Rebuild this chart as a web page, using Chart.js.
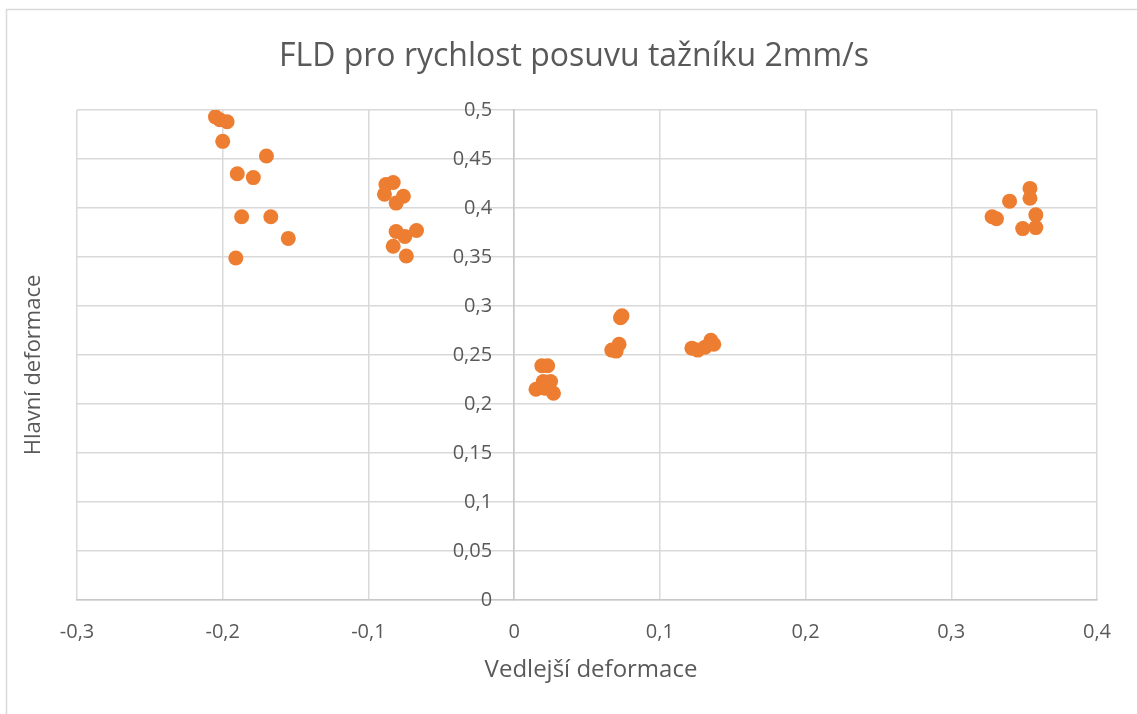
<!DOCTYPE html>
<html>
<head>
<meta charset="utf-8">
<script src="https://cdn.jsdelivr.net/npm/chart.js@4/dist/chart.umd.min.js"></script>
<style>
  html,body{margin:0;padding:0;background:#fff;}
  #wrap{width:1137px;height:714px;}
</style>
</head>
<body>
<div id="wrap"><canvas id="fld" width="1137" height="714"></canvas></div>
<script>
// --------- DATA ----------
const chartTitle = 'FLD pro rychlost posuvu tažníku 2mm/s';
const xTitle = 'Vedlejší deformace';
const yTitle = 'Hlavní deformace';

const xTickValues = [-0.3,-0.2,-0.1,0,0.1,0.2,0.3,0.4];
const xTickLabels = ['-0,3','-0,2','-0,1','0','0,1','0,2','0,3','0,4'];
const yTickValues = [0,0.05,0.1,0.15,0.2,0.25,0.3,0.35,0.4,0.45,0.5];
const yTickLabels = ['0','0,05','0,1','0,15','0,2','0,25','0,3','0,35','0,4','0,45','0,5'];

// vedlejší (minor) strain
const minorStrain = [
  -0.205,-0.202,-0.197,-0.200,-0.170,-0.190,-0.179,-0.187,-0.167,-0.155,-0.191,
  -0.088,-0.083,-0.089,-0.081,-0.076,-0.081,-0.067,-0.075,-0.083,-0.074,
  0.019,0.023,0.015,0.020,0.025,0.021,0.027,
  0.074,0.073,0.072,0.067,0.070,
  0.122,0.126,0.131,0.135,0.137,
  0.354,0.354,0.340,0.328,0.331,0.358,0.349,0.358
];
// hlavní (major) strain
const majorStrain = [
  0.493,0.490,0.488,0.468,0.453,0.435,0.431,0.391,0.391,0.369,0.349,
  0.424,0.426,0.414,0.405,0.412,0.376,0.377,0.371,0.361,0.351,
  0.239,0.239,0.215,0.223,0.223,0.216,0.211,
  0.290,0.288,0.261,0.255,0.254,
  0.257,0.255,0.258,0.265,0.261,
  0.420,0.410,0.407,0.391,0.389,0.393,0.379,0.380
];

// --------- HELPERS ----------
const txt = '#595959';
const FONT = '"Open Sans", sans-serif';

const decorations = {
  id:'decorations',
  beforeDraw(chart){
    const c = chart.ctx;
    c.save();
    c.strokeStyle = '#d9d9d9';
    c.lineWidth = 1.5;
    c.beginPath();
    c.moveTo(6.5, 714); c.lineTo(6.5, 9.5); c.lineTo(1137, 9.5);
    c.stroke();
    c.restore();
  },
  afterDraw(chart){
    const c = chart.ctx;
    const ys = chart.scales.y, xs = chart.scales.x;
    c.save();
    c.fillStyle = txt;
    // y tick labels, left of the axis crossing at x=0
    c.font = '20px ' + FONT;
    c.textAlign = 'right';
    c.textBaseline = 'middle';
    const ax = xs.getPixelForValue(0) - 22;
    yTickValues.forEach((v,i)=>c.fillText(yTickLabels[i], ax, ys.getPixelForValue(v)));
    // titles
    c.textAlign = 'center';
    c.font = '32px ' + FONT;
    c.fillText(chartTitle, 574, 57);
    c.font = '24px ' + FONT;
    c.fillText(xTitle, 591, 670);
    c.font = '22px ' + FONT;
    c.translate(34, 365);
    c.rotate(-Math.PI/2);
    c.fillText(yTitle, 0, 0);
    c.restore();
  }
};

// --------- CHART ----------
const pts = minorStrain.map((x,i)=>({x:x, y:majorStrain[i]}));

new Chart(document.getElementById('fld'), {
  type:'scatter',
  data:{
    datasets:[{
      label:'FLD',
      data:pts,
      backgroundColor:'#ed7d31',
      borderWidth:0,
      pointRadius:7.5,
      pointHoverRadius:7.5
    }]
  },
  options:{
    responsive:false,
    maintainAspectRatio:false,
    animation:false,
    layout:{padding:{left:77, right:40, top:110, bottom:114}},
    plugins:{legend:{display:false}, tooltip:{enabled:false}, title:{display:false}},
    scales:{
      x:{
        type:'linear',
        position:{y:0},
        min:-0.3, max:0.4,
        afterBuildTicks:s=>{ s.ticks = xTickValues.map(v=>({value:v})); },
        ticks:{color:txt, font:{family:FONT, size:20}, padding:20,
               callback:(v,i)=>xTickLabels[i]},
        grid:{color:'#d9d9d9', lineWidth:1.5, drawTicks:false},
        border:{color:'#c8c8c8', width:1.5}
      },
      y:{
        type:'linear',
        position:{x:0},
        min:0, max:0.5,
        afterBuildTicks:s=>{ s.ticks = yTickValues.map(v=>({value:v})); },
        ticks:{display:false},
        grid:{color:'#d9d9d9', lineWidth:1.5, drawTicks:false},
        border:{color:'#c8c8c8', width:1.5}
      }
    }
  },
  plugins:[decorations]
});
</script>
</body>
</html>
